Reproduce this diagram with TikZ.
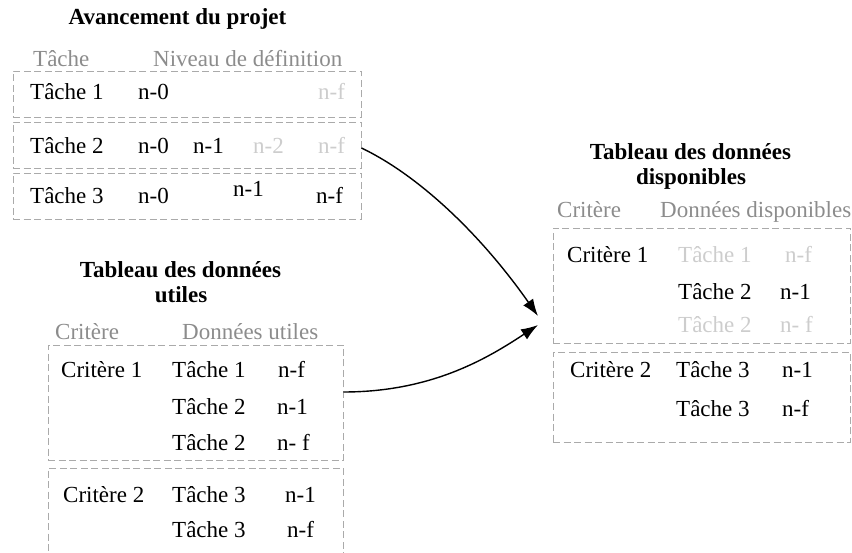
\documentclass[tikz,border=0pt]{standalone}
\usepackage{fontspec}
\setmainfont{Liberation Serif}
\usetikzlibrary{arrows.meta}
\definecolor{hdr}{RGB}{140,140,140}
\definecolor{faint}{RGB}{205,205,205}
\definecolor{boxc}{RGB}{170,170,170}
\tikzset{
  tbox/.style={draw=boxc, line width=0.9pt, dash pattern=on 7pt off 3.5pt, rectangle, inner sep=0pt},
  txt/.style={anchor=base west, inner sep=0pt, font=\fontsize{23}{27}\selectfont, text=black},
  hd/.style={txt, text=hdr},
  lt/.style={txt, text=faint},
  ttl/.style={anchor=base, inner sep=0pt, font=\fontsize{23}{27}\selectfont\bfseries},
  conn/.style={line width=1.4pt, -{Latex[length=17pt,width=12pt]}}
}
\begin{document}
\begin{tikzpicture}[x=1pt,y=-1pt]
\useasboundingbox (0,0) rectangle (852,553);
% ---------- Avancement du projet ----------
\node[ttl] (title1) at (177.5,25) {Avancement du projet};
\node[hd] (h1a) at (33,67) {Tâche};
\node[hd] (h1b) at (153,67) {Niveau de définition};
\node[tbox, minimum width=348pt, minimum height=46pt] (t1) at (187,94) {};
\node[tbox, minimum width=348pt, minimum height=46pt] (t2) at (187,145) {};
\node[tbox, minimum width=348pt, minimum height=46pt] (t3) at (187,196) {};
\node[txt] (r1a) at (30,100) {Tâche 1};
\node[txt] (r1b) at (138,100) {n-0};
\node[lt]  (r1c) at (318,100) {n-f};
\node[txt] (r2a) at (30,154) {Tâche 2};
\node[txt] (r2b) at (138,154) {n-0};
\node[txt] (r2c) at (193,154) {n-1};
\node[lt]  (r2d) at (253,154) {n-2};
\node[lt]  (r2e) at (318,154) {n-f};
\node[txt] (r3a) at (30,204) {Tâche 3};
\node[txt] (r3b) at (138,204) {n-0};
\node[txt] (r3c) at (233,197) {n-1};
\node[txt] (r3d) at (316,204) {n-f};
% ---------- Tableau des donnees utiles ----------
\node[ttl] (title2a) at (180.5,278) {Tableau des données};
\node[ttl] (title2b) at (181,303) {utiles};
\node[hd] (h2a) at (55,340) {Critère};
\node[hd] (h2b) at (182,340) {Données utiles};
\node[tbox, minimum width=295pt, minimum height=115pt] (u1) at (195.5,402.5) {};
\node[tbox, minimum width=295pt, minimum height=132pt] (u2) at (195.5,534) {};
\node[txt] (u1a) at (61,378) {Critère 1};
\node[txt] (u1b) at (172,378) {Tâche 1};
\node[txt] (u1c) at (278,378) {n-f};
\node[txt] (u1d) at (172,415) {Tâche 2};
\node[txt] (u1e) at (277,415) {n-1};
\node[txt] (u1f) at (172,450) {Tâche 2};
\node[txt] (u1g) at (277,450) {n- f};
\node[txt] (u2a) at (63,502) {Critère 2};
\node[txt] (u2b) at (172,502) {Tâche 3};
\node[txt] (u2c) at (285,502) {n-1};
\node[txt] (u2d) at (172,537) {Tâche 3};
\node[txt] (u2e) at (287,537) {n-f};
% ---------- Tableau des donnees disponibles ----------
\node[ttl] (title3a) at (690.5,160) {Tableau des données};
\node[ttl] (title3b) at (691,185) {disponibles};
\node[hd] (h3a) at (557,218) {Critère};
\node[hd] (h3b) at (660,218) {Données disponibles};
\node[tbox, minimum width=297pt, minimum height=115pt] (d1) at (701.5,285.5) {};
\node[tbox, minimum width=297pt, minimum height=90pt] (d2) at (701.5,397) {};
\node[txt] (d1a) at (567,263) {Critère 1};
\node[lt]  (d1b) at (678,263) {Tâche 1};
\node[lt]  (d1c) at (785,263) {n-f};
\node[txt] (d1d) at (678,300) {Tâche 2};
\node[txt] (d1e) at (780,300) {n-1};
\node[lt]  (d1f) at (678,333) {Tâche 2};
\node[lt]  (d1g) at (780,333) {n- f};
\node[txt] (d2a) at (570,378) {Critère 2};
\node[txt] (d2b) at (676,378) {Tâche 3};
\node[txt] (d2c) at (782,378) {n-1};
\node[txt] (d2d) at (676,417) {Tâche 3};
\node[txt] (d2e) at (782,417) {n-f};
% ---------- connectors ----------
\coordinate (in1) at (538,316);
\coordinate (in2) at (538,325);
\draw[conn] ([yshift=-3pt]t2.east) .. controls (420,176) and (482,236) .. (in1);
\draw[conn] ([yshift=10.5pt]u1.east) .. controls (432,392) and (488,358) .. (in2);
\end{tikzpicture}
\end{document}
